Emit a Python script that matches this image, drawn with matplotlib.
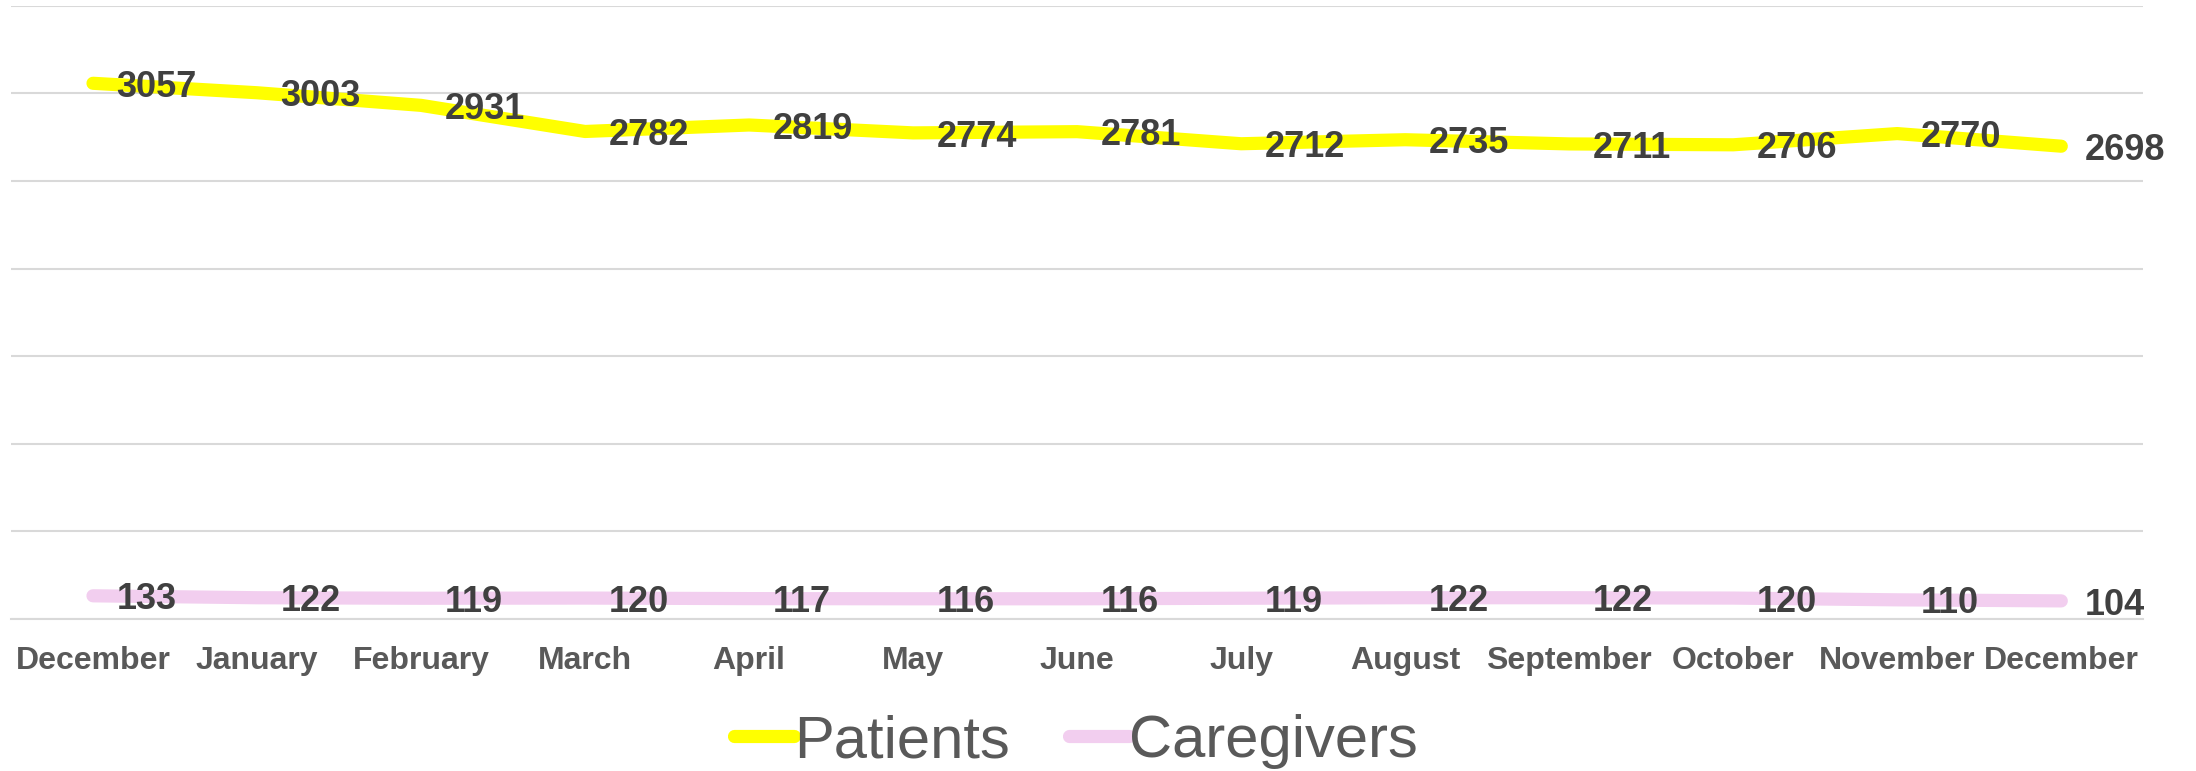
import matplotlib.pyplot as plt

months = ['December', 'January', 'February', 'March', 'April', 'May', 'June',
          'July', 'August', 'September', 'October', 'November', 'December']
patients = [3057, 3003, 2931, 2782, 2819, 2774, 2781, 2712, 2735, 2711, 2706, 2770, 2698]
caregivers = [133, 122, 119, 120, 117, 116, 116, 119, 122, 122, 120, 110, 104]

plt.rcParams['font.family'] = ['Liberation Sans', 'DejaVu Sans']

fig = plt.figure(figsize=(21.96, 7.71), dpi=100)
ax = fig.add_axes([0.005, 0.197, 0.971, 0.7957])

x = list(range(len(months)))
line_kw = dict(linewidth=9.5, solid_capstyle='round', solid_joinstyle='round', zorder=3)
ax.plot(x, patients, color='#FFFF00', label='Patients', **line_kw)
ax.plot(x, caregivers, color='#F2CEEF', label='Caregivers', **line_kw)

# data labels sit to the right of each point
for series in (patients, caregivers):
    for i, v in enumerate(series):
        ax.annotate(str(v), (i, v), xytext=(17, -3), textcoords='offset points',
                    ha='left', va='center', fontsize=26, fontweight='bold',
                    color='#404040', zorder=4)

ax.set_xlim(-0.5, 12.5)
ax.set_ylim(0, 3500)
ax.set_yticks(range(0, 3501, 500))
ax.yaxis.grid(True, color='#D9D9D9', linewidth=1.5)
ax.set_axisbelow(True)
ax.tick_params(axis='y', left=False, labelleft=False)
ax.set_xticks(x)
ax.set_xticklabels(months, fontsize=23, fontweight='bold', color='#595959')
ax.tick_params(axis='x', length=0, pad=19)
for s in ('top', 'left', 'right'):
    ax.spines[s].set_visible(False)
ax.spines['bottom'].set_color('#D9D9D9')
ax.spines['bottom'].set_linewidth(1.5)

leg = fig.legend(loc='center', bbox_to_anchor=(0.49, 0.038), ncol=2, frameon=False,
                 fontsize=43, handlelength=1.0, handletextpad=0.0, columnspacing=1.0)
for t in leg.get_texts():
    t.set_color('#595959')

fig.savefig('out.png', dpi=100)
